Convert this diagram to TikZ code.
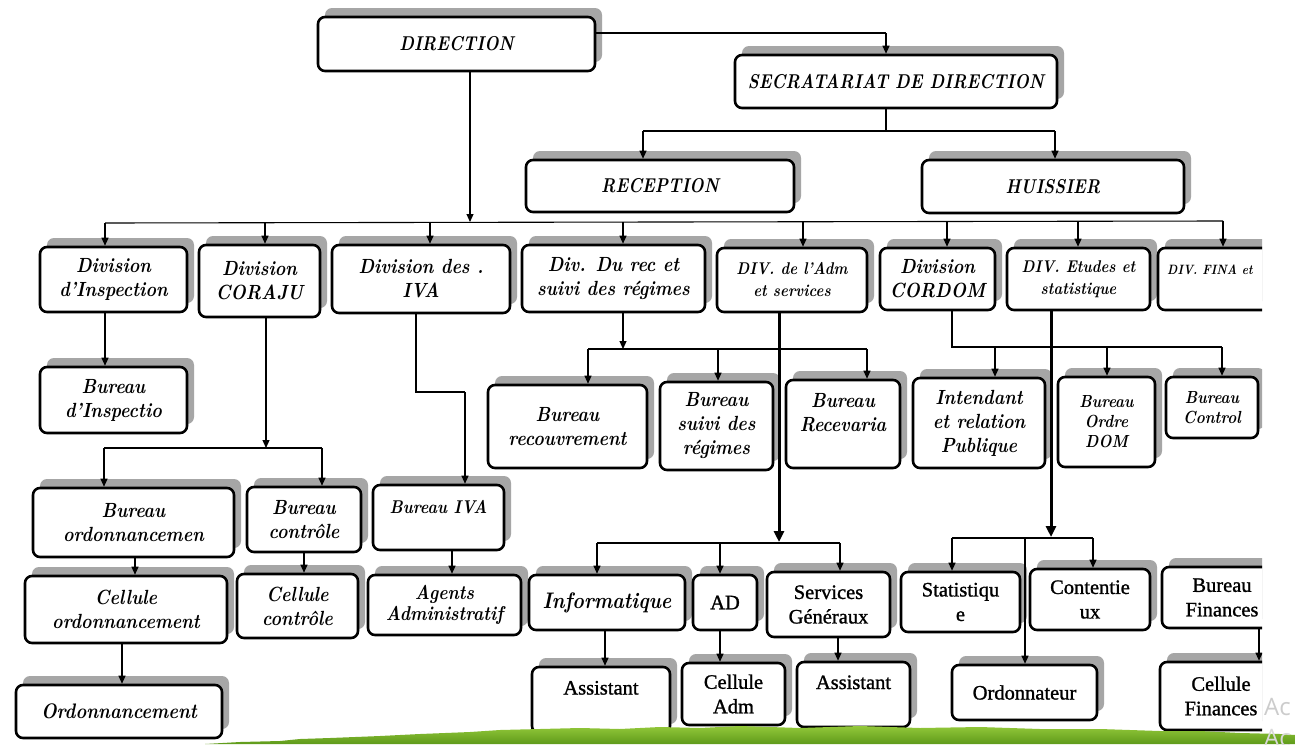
\documentclass[tikz,border=0pt]{standalone}
\usepackage{fontspec}
\newfontfamily\scrfont{lmroman10-bolditalic}[Extension=.otf, FakeStretch=0.87]
\newfontfamily\headfont{lmroman10-bolditalic}[Extension=.otf, FakeStretch=0.84]
\newfontfamily\serfont{Liberation Serif}[FakeBold=1.2]
\newfontfamily\wmfont{Open Sans}
\usetikzlibrary{arrows.meta, shadows, calc}
\definecolor{shd}{HTML}{A6A6A6}
\definecolor{grassA}{HTML}{93C83A}
\definecolor{grassB}{HTML}{5E9A1A}
\tikzset{
  box/.style={draw=black, line width=2.6pt, rounded corners=7pt, fill=white, align=center, inner sep=1pt,
    general shadow={fill=shd, shadow xshift=7pt, shadow yshift=9pt}},
  sh/.style={font=\headfont\fontsize{20}{24}\selectfont},
  sc/.style={font=\scrfont\fontsize{20.5}{24}\selectfont},
  scs/.style={font=\scrfont\fontsize{17.5}{20}\selectfont},
  scm/.style={font=\scrfont\fontsize{17}{22}\selectfont},
  scl/.style={font=\scrfont\fontsize{20}{21}\selectfont},
  sr/.style={font=\serfont\fontsize{20.5}{24.5}\selectfont},
  con/.style={draw=black, line width=1.1pt},
  arr/.style={con, -{Triangle[length=8pt,width=7pt]}},
  tarr/.style={draw=black, line width=3pt, -{Triangle[length=11pt,width=10pt]}},
}
\begin{document}
\begin{tikzpicture}[x=1pt, y=-1pt]
\useasboundingbox (0,0) rectangle (1295,744);
\fill[white] (0,0) rectangle (1295,744);
\begin{scope}
\clip (0,0) rectangle (1262,744);
% ---- top
\node[box, sh, minimum width=277pt, minimum height=54pt] (dir) at (456.5,44) {DIRECTION};
\node[box, sh, minimum width=322pt, minimum height=53pt] (sec) at (896,81.5) {SECRATARIAT DE DIRECTION};
\node[box, sh, minimum width=268pt, minimum height=52pt] (rec) at (660,186) {RECEPTION};
\node[box, sh, minimum width=262pt, minimum height=53pt] (hui) at (1053,186.5) {HUISSIER};
% ---- divisions
\node[box, sc, minimum width=147pt, minimum height=65pt] (dins) at (113.5,279.5) {Division\\d’Inspection};
\node[box, sc, minimum width=121pt, minimum height=72pt] (dcor) at (259.5,281) {Division\\CORAJU};
\node[box, sc, minimum width=178pt, minimum height=68pt] (diva) at (421,279) {Division des .\\IVA};
\node[box, sc, minimum width=183pt, minimum height=67pt] (drec) at (613.5,278.5) {Div. Du rec et\\suivi des régimes};
\node[box, scm, minimum width=150pt, minimum height=64pt] (dadm) at (792,280) {DIV. de l’Adm\\et services};
\node[box, sc, minimum width=115pt, minimum height=62pt] (dcdm) at (937.5,279) {Division\\CORDOM};
\node[box, scm, minimum width=143pt, minimum height=62pt] (detu) at (1078.5,279) {DIV. Etudes et\\statistique};
\node[box, minimum width=160pt, minimum height=62pt] (dfin) at (1238,279) {};
\node[font=\scrfont\fontsize{13.5}{20}\selectfont, anchor=west, inner sep=0pt] (dfint) at (1167,270) {DIV. FINA et};
% ---- second row
\node[box, sc, minimum width=147pt, minimum height=66pt] (bins) at (113.5,400) {Bureau\\d’Inspectio};
\node[box, sc, minimum width=159pt, minimum height=83pt] (brec) at (567.5,426.5) {Bureau\\recouvrement};
\node[box, sc, minimum width=113pt, minimum height=88pt] (bsui) at (716.5,426) {Bureau\\suivi des\\régimes};
\node[box, sc, minimum width=114pt, minimum height=88pt] (brcv) at (843,424) {Bureau\\Recevaria\\~};
\node[box, sc, minimum width=132pt, minimum height=90pt] (bint) at (979,423) {Intendant\\et relation\\Publique};
\node[box, scs, minimum width=97pt, minimum height=90pt] (bord) at (1106.5,422) {Bureau\\Ordre\\DOM};
\node[box, scs, minimum width=92pt, minimum height=61pt] (bctl) at (1212,407.5) {Bureau\\Control};
% ---- left lower rows
\node[box, sc, minimum width=201pt, minimum height=69pt] (bodn) at (133.5,522.5) {Bureau\\ordonnancemen};
\node[box, sc, minimum width=114pt, minimum height=65pt] (bctr) at (304,519.5) {Bureau\\contrôle};
\node[box, font=\scrfont\fontsize{18.5}{22}\selectfont, minimum width=131pt, minimum height=65pt] (biva) at (438.5,517.5) {Bureau IVA\\~};
\node[box, sc, minimum width=202pt, minimum height=67pt] (codn) at (126,609.5) {Cellule\\ordonnancement};
\node[box, sc, minimum width=121pt, minimum height=64pt] (cctr) at (297.5,606) {Cellule\\contrôle};
\node[box, scl, minimum width=153pt, minimum height=60pt] (agt) at (444.5,605) {Agents\\Administratif};
\node[box, font=\scrfont\fontsize{21}{23}\selectfont, minimum width=206pt, minimum height=53pt] (odn) at (119,711.5) {Ordonnancement};
% ---- right lower rows
\node[box, font=\scrfont\fontsize{22.5}{23}\selectfont, minimum width=156pt, minimum height=55pt] (info) at (607,602.5) {Informatique};
\node[box, sr, minimum width=64pt, minimum height=55pt] (ad) at (725,602.5) {AD};
\node[box, sr, minimum width=123pt, minimum height=65pt] (serv) at (828.5,604.5) {Services\\Généraux};
\node[box, sr, minimum width=119pt, minimum height=60pt] (stat) at (960.5,602) {Statistiqu\\e};
\node[box, sr, minimum width=120pt, minimum height=61pt] (cont) at (1090,599.5) {Contentie\\ux};
\node[box, sr, minimum width=120pt, minimum height=61pt] (bfin) at (1222,597.5) {Bureau\\Finances};
\node[box, sr, minimum width=138pt, minimum height=66pt] (as1) at (601,700) {Assistant\\~};
\node[box, sr, minimum width=103pt, minimum height=62pt] (cadm) at (733.5,694) {Cellule\\Adm};
\node[box, sr, minimum width=113pt, minimum height=65pt] (as2) at (853.5,694.5) {Assistant\\~};
\node[box, sr, minimum width=145pt, minimum height=55pt] (ordn) at (1024.5,692.5) {Ordonnateur};
\node[box, sr, minimum width=122pt, minimum height=68pt] (cfin) at (1221,696) {Cellule\\Finances};
% ---- connectors top
\coordinate (jsec) at (886,33);
\draw[con] (dir.east |- jsec) -- (jsec);
\draw[arr] (jsec) -- (jsec |- sec.north);
\coordinate (bsec) at (886,131);
\coordinate (brl) at (643,131);
\coordinate (bhr) at (1055,131);
\draw[con] (sec.south -| bsec) -- (bsec);
\draw[con] (brl) -- (bhr);
\draw[arr] (brl) -- (brl |- rec.north);
\draw[arr] (bhr) -- (bhr |- hui.north);
% main bus
\coordinate (mb) at (470,222);
\coordinate (m1) at (105,223);
\coordinate (m2) at (265,223);
\coordinate (m3) at (430,222);
\coordinate (m4) at (623,222);
\coordinate (m5) at (803,222);
\coordinate (m6) at (947,221);
\coordinate (m7) at (1078,221);
\coordinate (m8) at (1223,221);
\draw[arr] (dir.south -| mb) -- (mb);
\draw[con] (m1) -- (m8);
\draw[arr] (m1) -- (m1 |- dins.north);
\draw[arr] (m2) -- (m2 |- dcor.north);
\draw[arr] (m3) -- (m3 |- diva.north);
\draw[arr] (m4) -- (m4 |- drec.north);
\draw[arr] (m5) -- (m5 |- dadm.north);
\draw[arr] (m6) -- (m6 |- dcdm.north);
\draw[arr] (m7) -- (m7 |- detu.north);
\draw[arr] (m8) -- (m8 |- dfin.north);
% inspection
\coordinate (ix) at (105,0);
\draw[arr] (dins.south -| ix) -- (ix |- bins.north);
% coraju
\coordinate (cj) at (266,448);
\coordinate (c1) at (104,448);
\coordinate (c2) at (322,448);
\draw[arr] (dcor.south -| cj) -- (cj);
\draw[con] (c1) -- (c2);
\draw[arr] (c1) -- (c1 |- bodn.north);
\draw[arr] (c2) -- (c2 |- bctr.north);
% iva
\coordinate (v1) at (416,392);
\coordinate (v2) at (465,392);
\draw[con] (diva.south -| v1) -- (v1) -- (v2);
\draw[arr] (v2) -- (v2 |- biva.north);
% div rec
\coordinate (rj) at (623,349);
\coordinate (r1) at (588,349);
\coordinate (r2) at (718,349);
\coordinate (r3) at (867,349);
\draw[arr] (drec.south -| rj) -- (rj);
\draw[con] (r1) -- (r3);
\draw[arr] (r1) -- (r1 |- brec.north);
\draw[arr] (r2) -- (r2 |- bsui.north);
\draw[arr] (r3) -- (r3 |- brcv.north);
% cordom
\coordinate (kj) at (952,347);
\coordinate (k1) at (995,347);
\coordinate (k2) at (1107,347);
\coordinate (k3) at (1222,347);
\draw[con] (dcdm.south -| kj) -- (kj) -- (k3);
\draw[arr] (k1) -- (k1 |- bint.north);
\draw[arr] (k2) -- (k2 |- bord.north);
\draw[arr] (k3) -- (k3 |- bctl.north);
% left chains
\coordinate (l1) at (135,0);
\coordinate (l2) at (304,0);
\coordinate (l3) at (452,0);
\coordinate (l4) at (122,0);
\draw[arr] (bodn.south -| l1) -- (l1 |- codn.north);
\draw[arr] (bctr.south -| l2) -- (l2 |- cctr.north);
\draw[arr] (biva.south -| l3) -- (l3 |- agt.north);
\draw[arr] (codn.south -| l4) -- (l4 |- odn.north);
% adm thick
\coordinate (aj) at (779,542);
\coordinate (a1) at (597,543);
\coordinate (a2) at (720,543);
\coordinate (a3) at (840,543);
\draw[con] (a1) -- (a3);
\draw[tarr] (dadm.south -| aj) -- (aj);
\draw[arr] (a1) -- (a1 |- info.north);
\draw[arr] (a2) -- (a2 |- ad.north);
\draw[arr] (a3) -- (a3 |- serv.north);
\coordinate (s1) at (605,0);
\coordinate (s2) at (720,0);
\coordinate (s3) at (838,0);
\draw[arr] (info.south -| s1) -- (s1 |- as1.north);
\draw[arr] (ad.south -| s2) -- (s2 |- cadm.north);
\draw[arr] (serv.south -| s3) -- (s3 |- as2.north);
% etudes thick
\coordinate (ej) at (1051,537);
\coordinate (e1) at (952,538);
\coordinate (e2) at (1025,538);
\coordinate (e3) at (1093,538);
\draw[con] (e1) -- (e3);
\draw[tarr] (detu.south -| ej) -- (ej);
\draw[arr] (e1) -- (e1 |- stat.north);
\draw[arr] (e3) -- (e3 |- cont.north);
\draw[arr] (e2) -- (e2 |- ordn.north);
% finances
\coordinate (f1) at (1259,0);
\draw[arr] (bfin.south -| f1) -- (f1 |- cfin.north);
\end{scope}
% grass strip
\shade[top color=grassA, bottom color=grassB]
  (205,744) -- (240,742) -- (280,741) -- (300,739) -- (330,738) -- (380,736) -- (420,734) -- (470,732)
  -- (500,730) -- (540,729) -- (580,728) -- (620,729) -- (660,727) -- (700,728) -- (740,726) -- (800,728)
  -- (860,726) -- (920,728) -- (980,727) -- (1040,729) -- (1100,729) -- (1160,731)
  -- (1200,731) -- (1240,733) -- (1280,734) -- (1295,735) -- (1295,744) -- cycle;
% watermark
\node[font=\wmfont\fontsize{24}{24}\selectfont, text=gray!40, anchor=west, inner sep=0pt] (wm1) at (1264,707) {Ac};
\node[font=\wmfont\fontsize{24}{24}\selectfont, text=gray!30, anchor=west, inner sep=0pt] (wm2) at (1264,738) {Ac};
\end{tikzpicture}
\end{document}
